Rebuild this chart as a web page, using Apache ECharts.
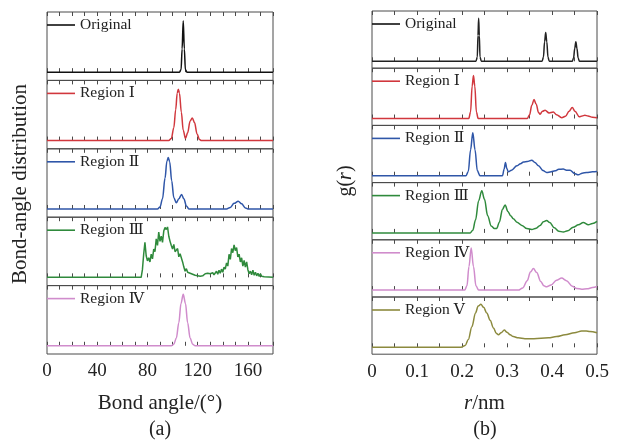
<!DOCTYPE html>
<html>
<head>
<meta charset="utf-8">
<title>Bond-angle distribution and g(r)</title>
<script src="https://cdn.jsdelivr.net/npm/echarts@6/dist/echarts.min.js"></script>
<style>
html,body{margin:0;padding:0;background:#fff;}
#main{width:617px;height:444px;}
</style>
</head>
<body>
<div id="main"></div>
<script>
// ---------- data ----------
var angleNames = ['Original', 'Region Ⅰ', 'Region Ⅱ', 'Region Ⅲ', 'Region Ⅳ'];
var rdfNames = ['Original', 'Region Ⅰ', 'Region Ⅱ', 'Region Ⅲ', 'Region Ⅳ', 'Region Ⅴ'];
var angleTickLabels = [0, 40, 80, 120, 160];
var rdfTickLabels = [0, 0.1, 0.2, 0.3, 0.4, 0.5];

// (a) bond angle (deg) -> distribution
var angOriginal = [[0,0],[105.5,0],[106.8,0.05],[107.6,0.45],[108.5,1],[109.4,0.45],[110.2,0.05],[111.5,0],[180,0]];
var angRegion1 = [[0,0],[97,0],[99,0.04],[101,0.25],[102.5,0.6],[103.7,0.92],[104.6,1],[105.5,0.92],[107,0.55],[108.5,0.2],
    [110.3,0.04],[112,0.15],[114,0.38],[115.7,0.44],[117.5,0.35],[119.5,0.13],[121.5,0.02],[123,0],[180,0]];
var angRegion2 = [[0,0],[88,0],[90,0.04],[92,0.2],[94,0.6],[95.5,0.93],[96.6,1],[97.7,0.92],[99.3,0.55],[101,0.22],[103,0.12],
    [105,0.2],[107.2,0.28],[109,0.2],[111,0.06],[113,0],[143,0],[146,0.03],[149,0.11],[152.3,0.15],[155,0.1],[158,0.02],[160,0],[180,0]];
var angRegion3 = [[0,0],[75,0],[76,0.15],[77,0.45],[78,0.68],[79,0.42],[80,0.32],[81,0.38],[82,0.3],[83,0.45],[84,0.36],
    [85,0.55],[86,0.5],[87,0.75],[88,0.62],[89,0.88],[90,0.7],[91,0.8],[92,0.68],[93,0.9],[94,0.97],[95,0.93],[96,0.98],
    [97,0.8],[98,0.7],[99,0.62],[100,0.55],[101,0.64],[102,0.5],[103,0.48],[104,0.56],[105,0.4],[106,0.46],[107,0.43],
    [108,0.3],[109,0.2],[110,0.12],[111,0.17],[112,0.1],[113,0.13],[114,0.08],[115,0.11],[116,0.06],[117,0.08],[118,0.04],
    [119,0.06],[120,0.03],[121,0.05],[122,0.02],[123,0.04],[124,0.03],[125,0.05],[126,0.07],[127,0.04],[128,0.08],[129,0.05],
    [130,0.07],[131,0.04],[132,0.09],[133,0.05],[134,0.08],[135,0.12],[136,0.06],[137,0.14],[138,0.08],[139,0.16],[140,0.1],
    [141,0.2],[142,0.16],[143,0.28],[144,0.22],[145,0.45],[146,0.35],[147,0.56],[148,0.48],[149,0.63],[150,0.52],[151,0.58],
    [152,0.4],[153,0.45],[154,0.3],[155,0.38],[156,0.22],[157,0.33],[158,0.2],[159,0.3],[160,0.15],[161,0.07],[162,0.12],
    [163,0.05],[164,0.14],[165,0.04],[166,0.1],[167,0.03],[168,0.08],[169,0.02],[170,0.07],[171,0.02],[172,0.05],[173,0.01],
    [174,0],[180,0]];
var angRegion4 = [[0,0],[99,0],[101,0.03],[103,0.15],[105,0.45],[106.7,0.82],[108.5,1],[110.3,0.82],[112,0.45],[114,0.15],
    [116,0.03],[118,0],[180,0]];

// (b) r (nm) -> g(r)
var rdfOriginal = [[0,0],[0.231,0],[0.234,0.1],[0.2355,0.6],[0.237,1],[0.2385,0.6],[0.24,0.1],[0.243,0],[0.378,0],[0.381,0.1],
    [0.3835,0.45],[0.386,0.67],[0.3885,0.45],[0.391,0.1],[0.394,0],[0.445,0],[0.448,0.08],[0.4505,0.3],[0.453,0.455],
    [0.4555,0.3],[0.458,0.08],[0.461,0],[0.5,0]];
var rdfRegion1 = [[0,0],[0.215,0],[0.219,0.15],[0.2225,0.75],[0.2255,1],[0.2285,0.75],[0.232,0.15],[0.236,0],[0.345,0],
    [0.35,0.08],[0.355,0.3],[0.36,0.44],[0.365,0.33],[0.37,0.14],[0.3735,0.1],[0.379,0.17],[0.3846,0.19],[0.3935,0.13],
    [0.403,0.15],[0.41,0.09],[0.4216,0.02],[0.43,0.05],[0.438,0.17],[0.445,0.255],[0.451,0.17],[0.4607,0.04],[0.467,0.06],
    [0.473,0.075],[0.48,0.06],[0.49,0.03],[0.5,0.02]];
var rdfRegion2 = [[0,0],[0.209,0],[0.214,0.1],[0.219,0.6],[0.224,1],[0.229,0.6],[0.234,0.12],[0.24,0],[0.29,0],[0.2935,0.15],
    [0.2966,0.31],[0.2995,0.17],[0.303,0.09],[0.31,0.13],[0.322,0.23],[0.33,0.28],[0.3366,0.32],[0.345,0.33],[0.355,0.36],
    [0.362,0.31],[0.37,0.23],[0.38,0.12],[0.388,0.075],[0.398,0.09],[0.4068,0.115],[0.415,0.15],[0.425,0.155],[0.432,0.13],
    [0.44,0.13],[0.45,0.05],[0.4586,0.02],[0.467,0.06],[0.477,0.075],[0.49,0.09],[0.5,0.1]];
var rdfRegion3 = [[0,0],[0.218,0],[0.224,0.06],[0.23,0.3],[0.237,0.75],[0.244,0.98],[0.25,0.78],[0.257,0.4],[0.265,0.16],
    [0.272,0.1],[0.277,0.1],[0.283,0.25],[0.29,0.55],[0.2958,0.65],[0.302,0.5],[0.308,0.4],[0.314,0.33],[0.322,0.25],
    [0.333,0.175],[0.344,0.1],[0.355,0.08],[0.365,0.11],[0.3735,0.175],[0.381,0.26],[0.388,0.29],[0.395,0.24],[0.405,0.12],
    [0.415,0.04],[0.425,0.02],[0.435,0.05],[0.447,0.13],[0.4587,0.19],[0.4696,0.24],[0.4807,0.19],[0.49,0.22],[0.5,0.27]];
var rdfRegion4 = [[0,0],[0.206,0],[0.211,0.1],[0.2155,0.55],[0.2204,0.98],[0.2255,0.55],[0.231,0.1],[0.237,0],[0.325,0],
    [0.335,0.05],[0.345,0.22],[0.352,0.42],[0.3587,0.5],[0.366,0.41],[0.375,0.2],[0.382,0.1],[0.388,0.077],[0.398,0.12],
    [0.41,0.23],[0.4216,0.28],[0.432,0.22],[0.445,0.09],[0.455,0.04],[0.466,0.02],[0.478,0.03],[0.49,0.06],[0.5,0.085]];
var rdfRegion5 = [[0,0],[0.198,0],[0.207,0.04],[0.214,0.18],[0.222,0.48],[0.23,0.8],[0.236,0.96],[0.242,1],[0.248,0.93],
    [0.255,0.8],[0.2625,0.63],[0.27,0.45],[0.276,0.33],[0.281,0.29],[0.287,0.34],[0.294,0.4],[0.3,0.35],[0.307,0.29],
    [0.314,0.25],[0.325,0.22],[0.34,0.2],[0.36,0.2],[0.392,0.22],[0.41,0.25],[0.429,0.29],[0.45,0.34],[0.466,0.38],
    [0.476,0.38],[0.484,0.37],[0.5,0.34]];

var angleData = [angOriginal, angRegion1, angRegion2, angRegion3, angRegion4];
var rdfData = [rdfOriginal, rdfRegion1, rdfRegion2, rdfRegion3, rdfRegion4, rdfRegion5];

// ---------- styling ----------
var FONT = "'Liberation Serif','Times New Roman','DejaVu Serif',serif";
var AXIS_COLOR = '#4a4a4a';
var TEXT_COLOR = '#222';
var angleColors = ['#111111', '#d1373d', '#2f56a8', '#2f8a3c', '#d08ccc'];
var rdfColors = ['#222222', '#d1373d', '#2f56a8', '#2f8a3c', '#d08ccc', '#8c8a3e'];

var grids = [], xAxes = [], yAxes = [], series = [], legends = [];

/**
 * 一个小面板：网格 + 上下两条只画刻度的x轴 + 隐藏的y轴 + 曲线 + 图例
 */
var addPanel = function (p) {
    var g = grids.length;
    grids.push({
        left: p.left, top: p.top, width: p.width, height: p.height,
        show: true, borderColor: AXIS_COLOR, borderWidth: 1, backgroundColor: 'transparent'
    });
    ['bottom', 'top'].forEach(function (pos) {
        var isLabelAxis = pos === 'bottom' && p.last;
        xAxes.push({
            gridIndex: g, type: 'value', position: pos,
            min: p.min, max: p.max, interval: p.step,
            axisLine: { show: false },
            axisTick: { show: true, inside: true, length: 4, lineStyle: { color: AXIS_COLOR, width: 1 } },
            splitLine: { show: false },
            axisLabel: {
                show: isLabelAxis, margin: 8,
                fontFamily: FONT, fontSize: 19, color: TEXT_COLOR,
                formatter: p.labelFormatter
            },
            name: isLabelAxis ? p.axisName : '',
            nameLocation: 'middle', nameGap: 39,
            nameTextStyle: {
                fontFamily: FONT, fontSize: 21, color: TEXT_COLOR,
                rich: { i: { fontFamily: FONT, fontSize: 21, fontStyle: 'italic', color: TEXT_COLOR } }
            }
        });
    });
    yAxes.push({ gridIndex: g, type: 'value', min: -0.16, max: 1.17, show: false });
    series.push({
        name: p.name, type: 'line', data: p.data,
        xAxisIndex: 2 * g, yAxisIndex: g,
        symbol: 'none', showSymbol: false,
        smooth: p.smooth ? 0.35 : false, smoothMonotone: 'x',
        color: p.color,
        lineStyle: { color: p.color, width: 1.5 },
        animation: false
    });
    legends.push({
        data: [p.name], left: p.left, top: p.top + 5, padding: 0,
        icon: 'rect', itemWidth: 28, itemHeight: 1.6, selectedMode: false,
        textStyle: { fontFamily: FONT, fontSize: 15.5, color: TEXT_COLOR }
    });
};

var pickLabel = function (ticks) {
    return function (v) {
        for (var i = 0; i < ticks.length; i++) {
            if (Math.abs(ticks[i] - v) < 1e-6) return String(ticks[i]);
        }
        return '';
    };
};

// (a) 键角分布
var A_LEFT = 47, A_WIDTH = 226, A_TOP = 12, A_H = 68.4;
for (var i = 0; i < angleNames.length; i++) {
    addPanel({
        left: A_LEFT, width: A_WIDTH, top: A_TOP + i * A_H, height: A_H,
        min: 0, max: 180, step: 10, labelFormatter: pickLabel(angleTickLabels),
        last: i === angleNames.length - 1, axisName: 'Bond angle/(°)',
        name: angleNames[i], data: angleData[i], color: angleColors[i],
        smooth: i !== 3
    });
}

// (b) 径向分布函数 g(r)
var B_LEFT = 372, B_WIDTH = 225, B_TOP = 11, B_H = 57.2;
for (var j = 0; j < rdfNames.length; j++) {
    addPanel({
        left: B_LEFT, width: B_WIDTH, top: B_TOP + j * B_H, height: B_H,
        min: 0, max: 0.5, step: 0.05, labelFormatter: pickLabel(rdfTickLabels),
        last: j === rdfNames.length - 1, axisName: '{i|r}/nm',
        name: rdfNames[j], data: rdfData[j], color: rdfColors[j],
        smooth: true
    });
}

var chart = echarts.init(document.getElementById('main'), null, { renderer: 'canvas' });
chart.setOption({
    animation: false,
    backgroundColor: '#fff',
    grid: grids,
    xAxis: xAxes,
    yAxis: yAxes,
    legend: legends,
    series: series,
    graphic: [
        {
            type: 'text', x: 20, y: 184, rotation: Math.PI / 2,
            style: { text: 'Bond-angle distribution', font: '21px ' + FONT, fill: TEXT_COLOR, align: 'center', verticalAlign: 'middle' }
        },
        {
            type: 'text', x: 346, y: 181, rotation: Math.PI / 2,
            style: {
                text: '{n|g(}{i|r}{n|)}', fill: TEXT_COLOR, align: 'center', verticalAlign: 'middle',
                rich: {
                    n: { fontFamily: FONT, fontSize: 20, fill: TEXT_COLOR },
                    i: { fontFamily: FONT, fontSize: 20, fontStyle: 'italic', fill: TEXT_COLOR }
                }
            }
        },
        {
            type: 'text', x: 160, y: 430,
            style: { text: '(a)', font: '20px ' + FONT, fill: TEXT_COLOR, align: 'center', verticalAlign: 'middle' }
        },
        {
            type: 'text', x: 485, y: 430,
            style: { text: '(b)', font: '20px ' + FONT, fill: TEXT_COLOR, align: 'center', verticalAlign: 'middle' }
        }
    ]
});
</script>
</body>
</html>
